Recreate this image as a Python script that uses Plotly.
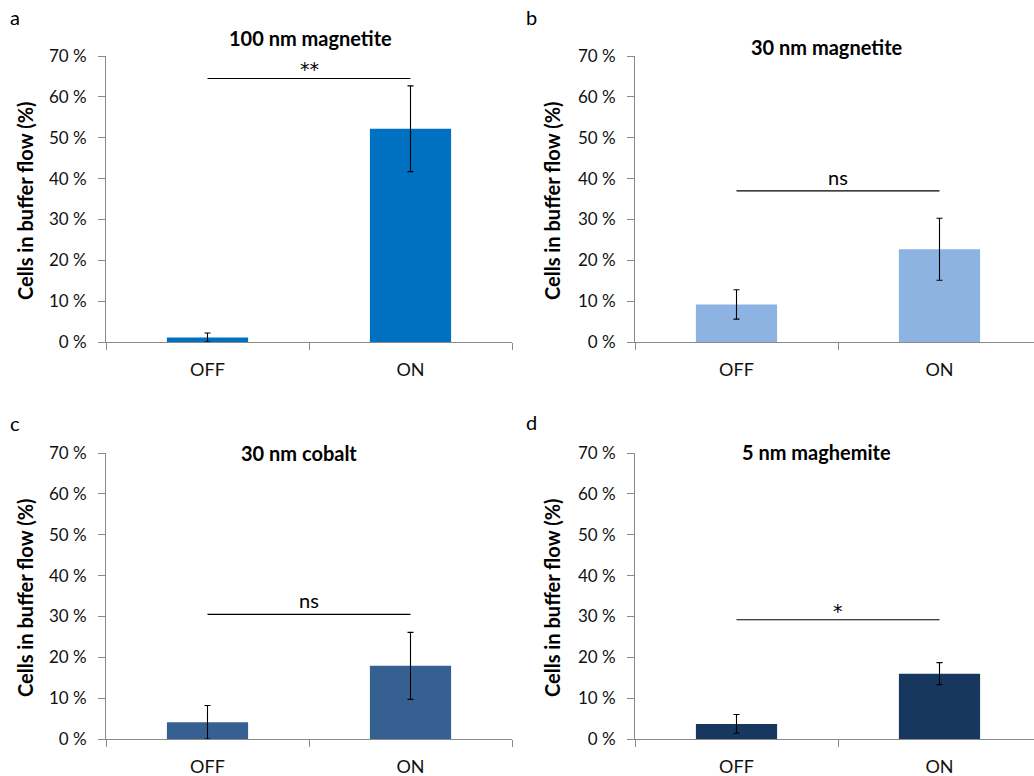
import plotly.graph_objects as go

# Data: percentage of cells recovered in the buffer flow, field OFF vs ON
categories = ["OFF", "ON"]
panel_letters = ["a", "b", "c", "d"]
panel_titles = ["100 nm magnetite", "30 nm magnetite", "30 nm cobalt", "5 nm maghemite"]
means_100nm_magnetite = [1.1, 52.2]
errs_100nm_magnetite = [1.1, 10.5]
means_30nm_magnetite = [9.2, 22.7]
errs_30nm_magnetite = [3.6, 7.6]
means_30nm_cobalt = [4.1, 17.9]
errs_30nm_cobalt = [4.1, 8.2]
means_5nm_maghemite = [3.7, 16.0]
errs_5nm_maghemite = [2.3, 2.7]
sig_labels = ["**", "ns", "ns", "*"]
sig_levels = [64.5, 37.0, 30.5, 29.2]
y_ticks = [0, 10, 20, 30, 40, 50, 60, 70]

means = [means_100nm_magnetite, means_30nm_magnetite, means_30nm_cobalt, means_5nm_maghemite]
errs = [errs_100nm_magnetite, errs_30nm_magnetite, errs_30nm_cobalt, errs_5nm_maghemite]
colors = ["#0070C0", "#8DB3E2", "#376092", "#17375E"]

W, H = 1034, 776
FONT = "Lato"
AXIS_COLOR = "#8a8a8a"

# pixel layout of each panel: (x0, x1, y_top, y_bottom)
panels = [
    (106, 512, 56, 342),
    (635, 1041, 56, 342),
    (106, 512, 453, 739),
    (635, 1041, 453, 739),
]

fig = go.Figure()
annotations = []
shapes = []

for i in range(4):
    x0, x1, yt, yb = panels[i]
    ax = "" if i == 0 else str(i + 1)
    xa, ya = "x" + ax, "y" + ax
    fig.add_trace(go.Bar(
        x=categories, y=means[i],
        marker=dict(color=colors[i], line=dict(width=0)),
        error_y=dict(type="data", array=errs[i], color="black", thickness=1.1, width=3),
        xaxis=xa, yaxis=ya, showlegend=False,
    ))
    # the right panels are clipped at the page edge
    span = 2.0 * (min(x1, W) - x0) / (x1 - x0)
    dom_x = [x0 / W, min(x1, W) / W]
    dom_y = [(H - yb) / H, (H - yt) / H]
    fig.layout["xaxis" + ax] = dict(
        domain=dom_x, anchor=ya, type="category", range=[-0.5, -0.5 + span],
        showline=True, linecolor=AXIS_COLOR, linewidth=1,
        ticks="outside", tickson="boundaries", ticklen=7, tickcolor=AXIS_COLOR,
        tickfont=dict(family=FONT, size=18, color="#111"),
        ticklabelstandoff=11, showgrid=False, zeroline=False, fixedrange=True,
        automargin=False,
    )
    fig.layout["yaxis" + ax] = dict(
        domain=dom_y, anchor=xa, range=[0, 70], tickvals=y_ticks,
        ticktext=[f"{v} %" for v in y_ticks],
        showline=True, linecolor=AXIS_COLOR, linewidth=1,
        ticks="outside", ticklen=7, tickcolor=AXIS_COLOR,
        tickfont=dict(family=FONT, size=17, color="#111"),
        ticklabelstandoff=8, showgrid=False, zeroline=False,
        automargin=False,
    )
    # significance bracket between OFF and ON
    shapes.append(dict(type="line", xref=xa, yref=ya, x0=0, x1=1,
                       y0=sig_levels[i], y1=sig_levels[i],
                       line=dict(color="black", width=1.1)))
    is_star = "*" in sig_labels[i]
    annotations.append(dict(xref=xa, yref=ya, x=0.5, y=sig_levels[i],
                            text=sig_labels[i], showarrow=False, yanchor="bottom",
                            yshift=-4 if is_star else 0,
                            font=dict(family="DejaVu Sans" if is_star else FONT,
                                      size=19 if is_star else 20, color="black")))
    # panel title
    title_y = [38, 47, 453, 452][i]
    title_x = [310, 827, 299, 816][i]
    annotations.append(dict(xref="paper", yref="paper", x=title_x / W, y=1 - title_y / H,
                            text=f"<b>{panel_titles[i]}</b>", showarrow=False,
                            xanchor="center", yanchor="middle",
                            font=dict(family=FONT, size=20, color="black")))
    # y-axis title
    ylab_x = [25, 552, 25, 552][i]
    annotations.append(dict(xref="paper", yref="paper", x=ylab_x / W,
                            y=1 - ((yt + yb) / 2 + 2) / H,
                            text="<b>Cells in buffer flow (%)</b>", textangle=-90,
                            showarrow=False, xanchor="center", yanchor="middle",
                            font=dict(family=FONT, size=20, color="black")))
    # panel letter
    lx = [15, 531, 15, 531][i]
    ly = [17, 17, 423, 422][i]
    annotations.append(dict(xref="paper", yref="paper", x=lx / W, y=1 - ly / H,
                            text=panel_letters[i], showarrow=False,
                            xanchor="center", yanchor="middle",
                            font=dict(family=FONT, size=20, color="black")))

fig.update_layout(
    width=W, height=H, margin=dict(l=0, r=0, t=0, b=0),
    paper_bgcolor="white", plot_bgcolor="white",
    bargap=0.6, annotations=annotations, shapes=shapes,
)

fig.write_html("out.html")
